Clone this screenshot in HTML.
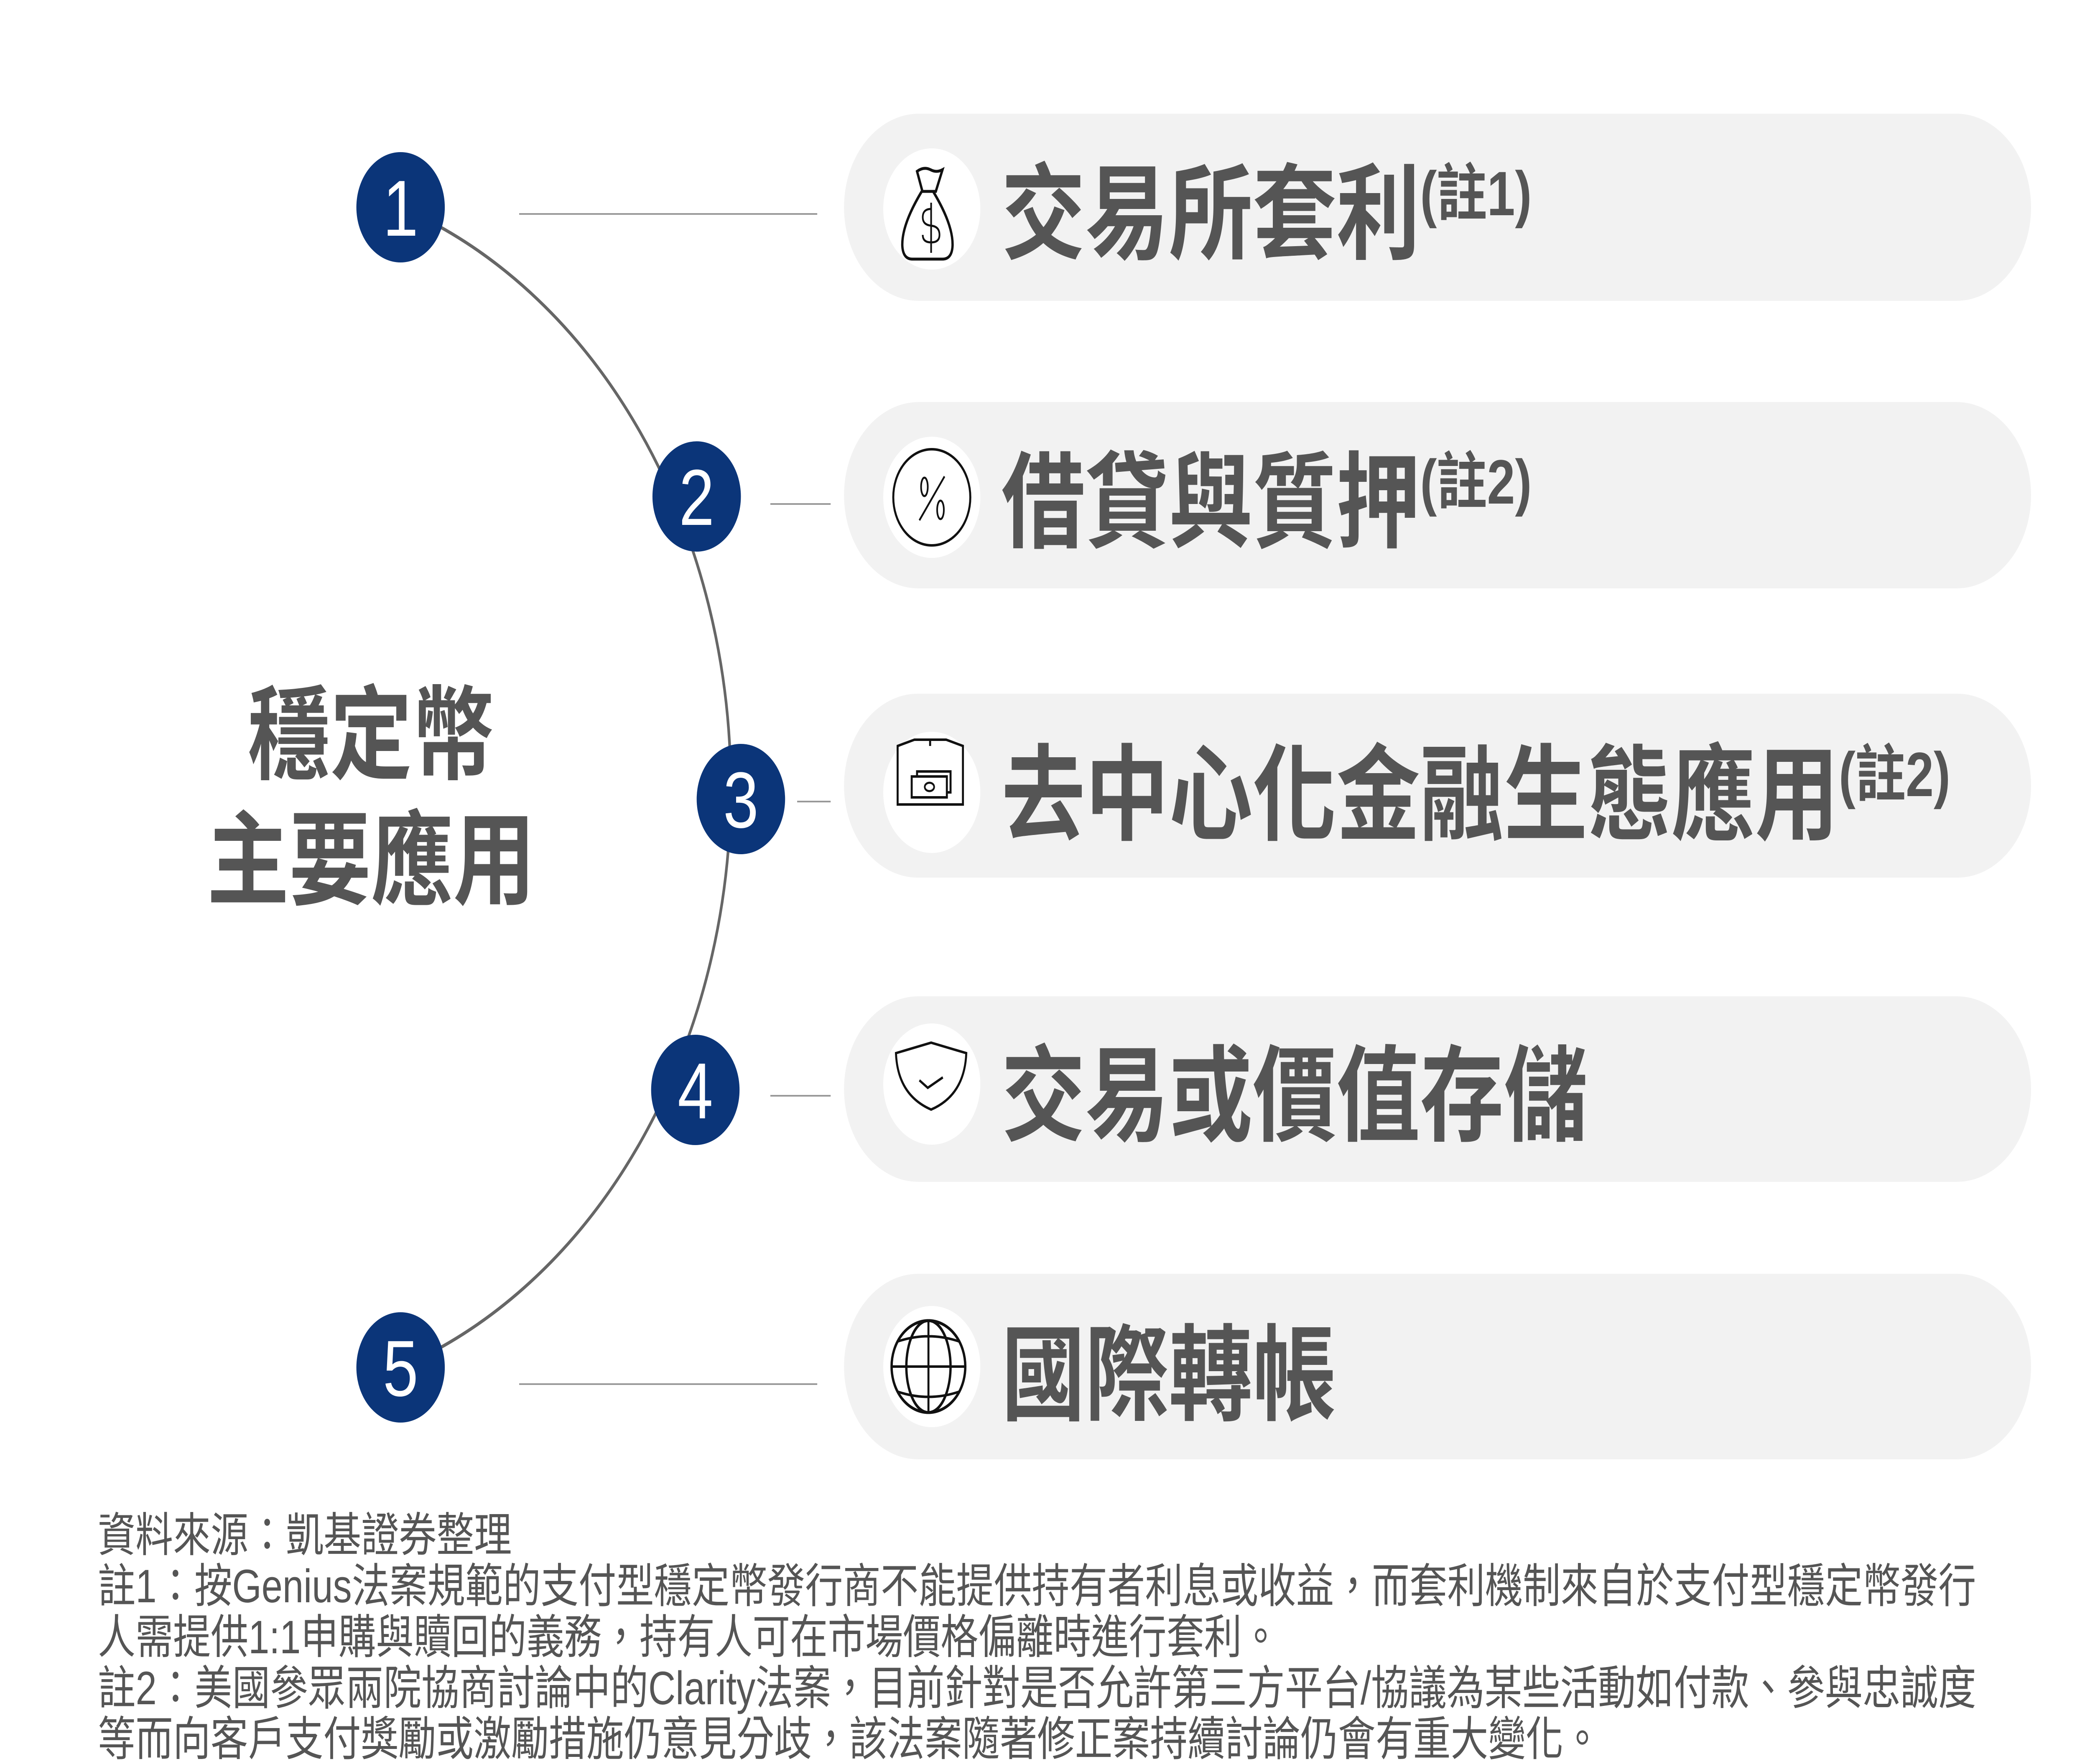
<!DOCTYPE html>
<html><head><meta charset="utf-8"><style>
html,body{margin:0;padding:0;background:#fff;width:100%;height:100%;overflow:hidden;}
svg{display:block;width:100vw;height:100vh;}
text{font-family:"Liberation Sans","Noto Sans CJK TC",sans-serif;}
</style></head><body>
<svg viewBox="0 0 6240 4221" preserveAspectRatio="none" xmlns="http://www.w3.org/2000/svg">
<rect width="6240" height="4221" fill="#fff"/>
<g fill="#f2f2f2">
<rect x="2520" y="272" width="3544" height="448" rx="224"/>
<rect x="2520" y="962" width="3544" height="446" rx="223"/>
<rect x="2520" y="1660" width="3544" height="440" rx="220"/>
<rect x="2520" y="2384" width="3544" height="444" rx="222"/>
<rect x="2520" y="3048" width="3544" height="444" rx="222"/>
</g>
<g fill="#fff">
<circle cx="2782" cy="500" r="145"/>
<circle cx="2782" cy="1190" r="145"/>
<circle cx="2782" cy="1896" r="145"/>
<circle cx="2782" cy="2594" r="145"/>
<circle cx="2782" cy="3270" r="145"/>
</g>
<g fill="none" stroke="#111" stroke-width="7">
<path d="M2738,410 q20,-12 40,-4 q18,8 36,0 l-20,52 l-40,0 z" />
<path d="M2752,458 q-60,80 -58,130 q2,32 30,32 l90,0 q28,0 30,-32 q2,-50 -58,-130"/>
<path d="M2780,500 q-25,0 -25,20 q0,18 25,20 q25,2 25,22 q0,18 -25,18 q-25,0 -25,-18 M2780,485 l0,120" stroke-width="5"/>
<circle cx="2782" cy="1190" r="115" stroke-width="6"/>
<ellipse cx="2760" cy="1165" rx="10" ry="22" stroke-width="5"/>
<ellipse cx="2808" cy="1220" rx="10" ry="22" stroke-width="5"/>
<path d="M2745,1245 L2820,1140" stroke-width="5"/>
<path d="M2680,1785 l50,-15 l95,0 l50,15 l0,140 l-195,0 z M2777,1770 l0,15" stroke-width="6"/>
<rect x="2722" y="1858" width="105" height="50" stroke-width="6"/>
<path d="M2738,1858 l0,-12 l100,0 l0,50 l-11,0" stroke-width="6"/>
<ellipse cx="2775" cy="1883" rx="14" ry="10" stroke-width="5"/>
<path d="M2675,2520 l105,-25 l105,25 q-5,100 -105,135 q-100,-35 -105,-135 z" stroke-width="6"/>
<path d="M2745,2585 l25,18 l45,-25" stroke-width="6"/>
<circle cx="2772" cy="3270" r="110" stroke-width="7"/>
<ellipse cx="2772" cy="3270" rx="66" ry="110" stroke-width="7"/>
<path d="M2662,3270 l220,0 M2772,3160 l0,220 M2680,3210 q92,-25 184,0 M2680,3330 q92,25 184,0" stroke-width="6"/>
</g>
<g stroke="#999" stroke-width="4">
<line x1="1550" y1="512" x2="2440" y2="512"/>
<line x1="2300" y1="1206" x2="2480" y2="1206"/>
<line x1="2380" y1="1918" x2="2480" y2="1918"/>
<line x1="2300" y1="2622" x2="2480" y2="2622"/>
<line x1="1550" y1="3312" x2="2440" y2="3312"/>
</g>
<path d="M1196,496 A1470,1470 0 0 1 1196,3272" fill="none" stroke="#666" stroke-width="8"/>
<g fill="#0b3579">
<circle cx="1196" cy="496" r="132"/>
<circle cx="2080" cy="1188" r="132"/>
<circle cx="2212" cy="1912" r="132"/>
<circle cx="2076" cy="2608" r="132"/>
<circle cx="1196" cy="3272" r="132"/>
</g>
<g fill="#fff" font-size="190" text-anchor="middle">
<text x="1196" y="564">1</text>
<text x="2080" y="1256">2</text>
<text x="2212" y="1980">3</text>
<text x="2076" y="2676">4</text>
<text x="1196" y="3340">5</text>
</g>
<g fill="#555" font-size="245" font-weight="bold" text-anchor="middle">
<text x="1108" y="1845">穩定幣</text>
<text x="1108" y="2145">主要應用</text>
</g>
<g fill="#555" font-size="250" font-weight="bold">
<text x="2990" y="600">交易所套利<tspan font-size="150" dy="-85">(註1)</tspan></text>
<text x="2990" y="1290">借貸與質押<tspan font-size="150" dy="-85">(註2)</tspan></text>
<text x="2990" y="1990">去中心化金融生態應用<tspan font-size="150" dy="-85">(註2)</tspan></text>
<text x="2990" y="2710">交易或價值存儲</text>
<text x="2990" y="3378">國際轉帳</text>
</g>
<g fill="#555" font-size="112">
<text x="292" y="3712" textLength="1236" lengthAdjust="spacingAndGlyphs">資料來源：凱基證券整理</text>
<text x="292" y="3834" textLength="5608" lengthAdjust="spacingAndGlyphs">註1：按Genius法案規範的支付型穩定幣發行商不能提供持有者利息或收益，而套利機制來自於支付型穩定幣發行</text>
<text x="292" y="3956" textLength="3528" lengthAdjust="spacingAndGlyphs">人需提供1:1申購與贖回的義務，持有人可在市場價格偏離時進行套利。</text>
<text x="292" y="4078" textLength="5608" lengthAdjust="spacingAndGlyphs">註2：美國參眾兩院協商討論中的Clarity法案，目前針對是否允許第三方平台/協議為某些活動如付款、參與忠誠度</text>
<text x="292" y="4200" textLength="4488" lengthAdjust="spacingAndGlyphs">等而向客戶支付獎勵或激勵措施仍意見分歧，該法案隨著修正案持續討論仍會有重大變化。</text>
</g>
</svg>
</body></html>
